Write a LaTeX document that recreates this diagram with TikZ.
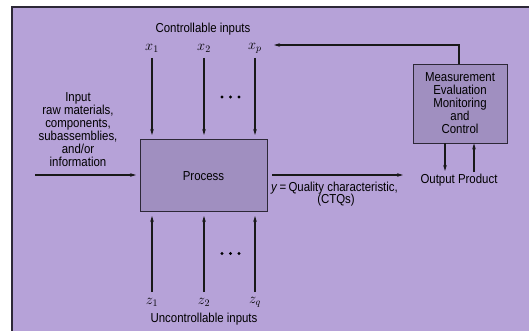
\documentclass[tikz,border=0pt]{standalone}
\usepackage[no-math]{fontspec}
\setmainfont{Liberation Sans}[FakeStretch=0.88]
\usetikzlibrary{arrows.meta}
\definecolor{bgpurple}{RGB}{182,162,216}
\definecolor{boxpurple}{RGB}{160,143,192}
\definecolor{edgegray}{RGB}{45,40,55}
\tikzset{
  flow/.style={line width=1.6pt, draw=black!90, -{Stealth[length=6pt,width=3.6pt]}},
  procbox/.style={draw=edgegray, line width=0.8pt, fill=boxpurple, inner sep=0pt},
  lbl/.style={inner sep=0pt, font=\fontsize{13}{13}\selectfont},
  var/.style={inner sep=0pt, font=\fontsize{14}{14}\selectfont},
  dot/.style={circle, fill=black, inner sep=0pt, minimum size=3.4pt},
}
\begin{document}
\begin{tikzpicture}[x=1pt,y=-1pt]
\useasboundingbox (0,0) rectangle (529,331);
\fill[white] (0,0) rectangle (529,331);
\filldraw[fill=bgpurple, draw=edgegray, line width=1.2pt] (12,7) rectangle (540,345);

% main boxes
\node[procbox, minimum width=127pt, minimum height=72pt] (process) at (203.5,175) {};
\node[lbl] (proclbl) at (203.5,176) {Process};
\node[procbox, minimum width=94pt, minimum height=79pt, align=center, lbl] (meas) at (460,103.5)
  {Measurement\\Evaluation\\Monitoring\\and\\Control};

% controllable inputs
\node[lbl] (ctitle) at (203,29) {Controllable inputs};
\node[var] (x1) at (152,48) {$x_1$};
\node[var] (x2) at (204,48) {$x_2$};
\node[var] (xp) at (255,48) {$x_p$};
\coordinate (x1e) at (152,135);
\coordinate (x2e) at (204,135);
\coordinate (xpe) at (255,135);
\coordinate (x1s) at (152,58);
\coordinate (x2s) at (204,58);
\coordinate (xps) at (255,58);
\draw[flow] (x1s) -- (x1e);
\draw[flow] (x2s) -- (x2e);
\draw[flow] (xps) -- (xpe);
\node[dot] (dt1) at (222,97) {};
\node[dot] (dt2) at (230.5,97) {};
\node[dot] (dt3) at (239,97) {};

% uncontrollable inputs
\node[var] (z1) at (152,302) {$z_1$};
\node[var] (z2) at (204,302) {$z_2$};
\node[var] (zq) at (255,302) {$z_q$};
\coordinate (z1s) at (152,292);
\coordinate (z2s) at (204,292);
\coordinate (zqs) at (255,292);
\coordinate (z1e) at (152,216);
\coordinate (z2e) at (204,216);
\coordinate (zqe) at (255,216);
\draw[flow] (z1s) -- (z1e);
\draw[flow] (z2s) -- (z2e);
\draw[flow] (zqs) -- (zqe);
\node[dot] (db1) at (222,253.5) {};
\node[dot] (db2) at (230.5,253.5) {};
\node[dot] (db3) at (239,253.5) {};
\node[lbl] (utitle) at (204,319) {Uncontrollable inputs};

% input
\node[lbl, align=center] (inlbl) at (78,129.5)
  {Input\\raw materials,\\components,\\subassemblies,\\and/or\\information};
\coordinate (ins) at (35,175);
\coordinate (ine) at (136,175);
\draw[flow] (ins) -- (ine);

% output
\coordinate (outs) at (272,175);
\coordinate (oute) at (403,175);
\draw[flow] (outs) -- (oute);
\node[lbl, anchor=west] (ylbl) at (271,188) {\textit{y}\,=\,Quality characteristic,};
\node[lbl] (ctq) at (336,200) {(CTQs)};
\node[lbl] (outprod) at (459,180) {Output Product};

% measurement arrows
\coordinate (md) at (445,171);
\coordinate (mu) at (474,172);
\draw[flow] (meas.south -| md) -- (md);
\draw[flow] (mu) -- (meas.south -| mu);

% feedback
\coordinate (fbcorner) at (459,45);
\coordinate (fbend) at (274,45);
\draw[flow] (meas.north -| fbcorner) -- (fbcorner) -- (fbend);
\end{tikzpicture}
\end{document}
